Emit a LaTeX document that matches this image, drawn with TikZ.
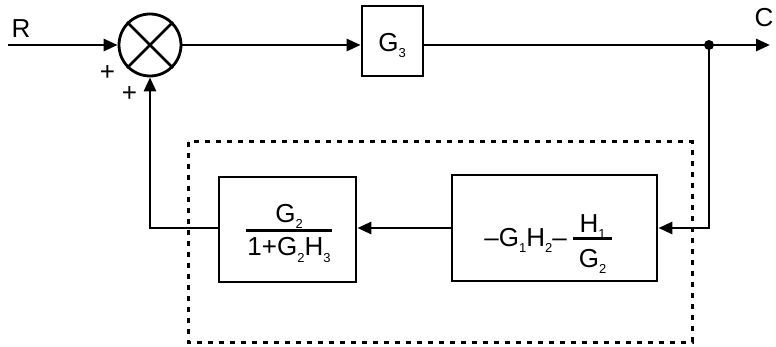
\documentclass[tikz,border=0pt]{standalone}
\usepackage{fontspec}
\setmainfont{Liberation Sans}
\usetikzlibrary{arrows.meta,calc}
\newcommand{\sbs}[1]{\raisebox{-6pt}{\fontsize{13}{13}\selectfont #1}}
\newcommand{\bigtxt}{\fontsize{26}{30}\selectfont}
\begin{document}
\begin{tikzpicture}[x=1pt,y=-1pt,
  wire/.style={line width=2.8pt},
  arr/.style={wire,-{Triangle[length=14pt,width=12pt]}},
  blk/.style={draw,line width=2.8pt,rectangle,inner sep=0pt},
  lbl/.style={inner sep=0pt,font=\bigtxt}]
\useasboundingbox (0,0) rectangle (776,347);
% dashed frame
\draw[line width=3pt,dash pattern=on 5pt off 6pt] (188,142) rectangle (692,342);
% nodes
\node[draw,circle,line width=2.8pt,minimum size=62pt,inner sep=0pt] (sum) at (150,45) {};
\draw[line width=2.8pt] (sum.north west) -- (sum.south east) (sum.north east) -- (sum.south west);
\node[blk,minimum width=61pt,minimum height=70pt] (g3) at (392.5,41) {};
\node[lbl,anchor=base] (g3t) at (392,52) {G\sbs{3}};
\node[blk,minimum width=137pt,minimum height=105pt] (lb) at (287.5,229.5) {};
\node[blk,minimum width=205pt,minimum height=106pt] (rb) at (554.5,228) {};
\coordinate (in) at (8,45);
\coordinate (out) at (770,45);
\coordinate (dot) at (709,45);
% texts
\node[lbl,anchor=base] (R) at (21,38) {R};
\node[lbl,anchor=base] (C) at (764,27) {C};
\node[lbl] (p1) at (107.5,73) {+};
\node[lbl] (p2) at (129.5,93.5) {+};
% left fraction
\node[lbl,anchor=base] (lnum) at (289,223) {G\sbs{2}};
\node[lbl,anchor=base] (lden) at (289,256) {1+G\sbs{2}H\sbs{3}};
\draw[line width=3pt] (246,231) -- (332,231);
% right text
\node[lbl,anchor=base east] (rmain) at (567,247) {–G\sbs{1}H\sbs{2}–};
\node[lbl,anchor=base] (rnum) at (592.5,233) {H\sbs{1}};
\node[lbl,anchor=base] (rden) at (592.5,268) {G\sbs{2}};
\draw[line width=3pt] (573,239) -- (612,239);
% connectors
\draw[arr] (in) -- (sum.west);
\draw[arr] (sum.east) -- (g3.west |- sum);
\draw[arr] (g3.east |- sum) -- (out);
\fill (dot) circle (5pt);
\draw[arr] (dot) |- (rb.east);
\draw[arr] (rb.west) -- (lb.east |- rb.west);
\draw[arr] (lb.west |- rb.west) -| (sum.south);
\end{tikzpicture}
\end{document}
